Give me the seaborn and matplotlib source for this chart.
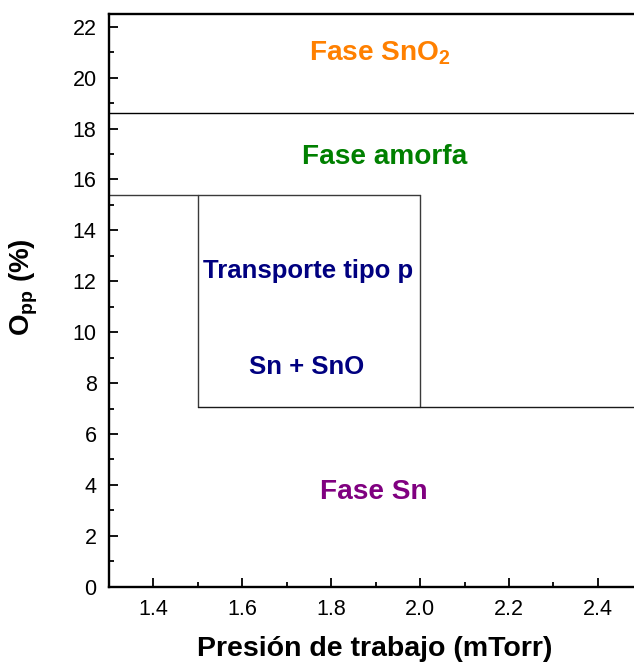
import matplotlib
matplotlib.use("Agg")
import matplotlib.pyplot as plt
import seaborn as sns
import pandas as pd
from matplotlib.ticker import MultipleLocator

# ---- data ----
# phase-boundary segments (x = working pressure, y = O_pp %)
seg_names = ["sno2_amorfa", "amorfa_top", "box_left", "box_right", "sn_top"]
seg_x = [[1.3, 2.5], [1.3, 2.0], [1.5, 1.5], [2.0, 2.0], [1.5, 2.5]]
seg_y = [[18.6, 18.6], [15.4, 15.4], [15.4, 7.07], [15.4, 7.07], [7.07, 7.07]]
seg_colors = ["#000000", "#3a3a3a", "#3a3a3a", "#3a3a3a", "#1a1a1a"]

region_labels = ["Fase SnO$_2$", "Fase amorfa", "Transporte tipo p", "Sn + SnO", "Fase Sn"]
region_x = [1.91, 1.92, 1.748, 1.745, 1.896]
region_y = [20.95, 16.9, 12.4, 8.63, 3.72]
region_colors = ["#FF8000", "#008000", "#000080", "#000080", "#800080"]
region_sizes = [20.2, 20.2, 18.5, 18.5, 20.2]

x_ticks = [1.4, 1.6, 1.8, 2.0, 2.2, 2.4]
y_ticks = [0, 2, 4, 6, 8, 10, 12, 14, 16, 18, 20, 22]

sns.set_style("ticks")
plt.rcParams["font.family"] = ["Liberation Sans", "DejaVu Sans"]
plt.rcParams["text.color"] = "black"
plt.rcParams["axes.labelcolor"] = "black"
plt.rcParams["mathtext.fontset"] = "custom"
plt.rcParams["mathtext.rm"] = "Liberation Sans:bold"
plt.rcParams["mathtext.bf"] = "Liberation Sans:bold"
plt.rcParams["mathtext.it"] = "Liberation Sans:bold"
plt.rcParams["mathtext.default"] = "bf"

fig = plt.figure(figsize=(6.34, 6.64), dpi=100)
W, H = 634, 664
ax = fig.add_axes([109 / W, 77.3 / H, 533.4 / W, 572.7 / H])

for name, xs, ys, c in zip(seg_names, seg_x, seg_y, seg_colors):
    df = pd.DataFrame({"x": xs, "y": ys})
    sns.lineplot(data=df, x="x", y="y", ax=ax, color=c, linewidth=1.0,
                 sort=False, estimator=None)

for t, x, y, c, s in zip(region_labels, region_x, region_y, region_colors, region_sizes):
    ax.text(x, y, t, color=c, fontsize=s, fontweight="bold", ha="center", va="center")

ax.set_xlim(1.3, 2.5)
ax.set_ylim(0, 22.5)
ax.set_xticks(x_ticks)
ax.set_xticklabels([f"{v:.1f}" for v in x_ticks])
ax.set_yticks(y_ticks)
ax.set_yticklabels([str(v) for v in y_ticks])
ax.xaxis.set_minor_locator(MultipleLocator(0.1))
ax.yaxis.set_minor_locator(MultipleLocator(1))
ax.tick_params(axis="both", which="major", direction="in", length=6.5, width=1.3,
               labelsize=15.5, pad=9, colors="black", labelcolor="black")
ax.tick_params(axis="both", which="minor", direction="in", length=3.5, width=1.3,
               colors="black")
ax.tick_params(top=False, right=False, which="both")

for side in ["left", "bottom", "top"]:
    ax.spines[side].set_linewidth(1.7)
    ax.spines[side].set_color("black")
ax.spines["right"].set_visible(False)

ax.set_xlabel("Presión de trabajo (mTorr)", fontsize=20.5, fontweight="bold",
              color="black")
ax.xaxis.set_label_coords((375 - 109) / 533.4, -(649 - 586.7) / 572.7)
ax.xaxis.label.set_va("center")
ax.set_ylabel("O$_{pp}$ (%)", fontsize=20, fontweight="bold", color="black")
ax.yaxis.set_label_coords(-(109 - 24) / 533.4, (586.7 - 287) / 572.7)
ax.yaxis.label.set_va("center")

fig.savefig("out.png", dpi=100)
